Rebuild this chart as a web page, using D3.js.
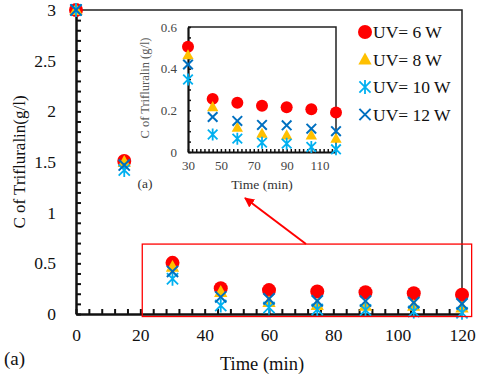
<!DOCTYPE html>
<html>
<head>
<meta charset="utf-8">
<script src="https://cdn.jsdelivr.net/npm/d3@7"></script>
<style>
  body { margin: 0; background: #fff; }
  text { font-family: "Liberation Serif", "Times New Roman", serif; }
</style>
</head>
<body>
<div id="chart"></div>
<script>
// data
const times = [0, 15, 30, 45, 60, 75, 90, 105, 120];
const uv6 = [3, 1.51, 0.505, 0.255, 0.236, 0.222, 0.215, 0.205, 0.19];
const uv8 = [3, 1.50, 0.465, 0.216, 0.117, 0.088, 0.08, 0.08, 0.064];
const uv10 = [3, 1.42, 0.348, 0.084, 0.064, 0.045, 0.04, 0.024, 0.013];
const uv12 = [3, 1.47, 0.42, 0.168, 0.149, 0.13, 0.128, 0.112, 0.1];

const seriesNames = ["UV= 6 W", "UV= 8 W", "UV= 10 W", "UV= 12 W"];
const seriesValues = [uv6, uv8, uv10, uv12];

const mainYTicks = [0, 0.5, 1, 1.5, 2, 2.5, 3];
const mainXTicks = [0, 20, 40, 60, 80, 100, 120];
const insetYTicks = [0, 0.2, 0.4, 0.6];
const insetXTicks = [30, 50, 70, 90, 110];

// zoom box drawn on the main chart (time, concentration)
const zoomBox = { t0: 20.6, t1: 123, c0: -0.025, c1: 0.69 };

const W = 480, H = 376;
const svg = d3.select("#chart").append("svg")
    .attr("width", W).attr("height", H);

const colors = ["#ff0000", "#ffc000", "#00b0f0", "#0070c0"];
const shapes = ["circle", "triangle", "star", "cross"];
const fmt = d3.format("");

function drawMarker(g, shape, color, s) {
    if (shape === "circle") {
        g.append("circle").attr("r", s).attr("fill", color);
    } else if (shape === "triangle") {
        g.append("path")
            .attr("d", `M0,${-s}L${s * 0.95},${s * 0.7}L${-s * 0.95},${s * 0.7}Z`)
            .attr("fill", color);
    } else if (shape === "star") {
        const a = s * 0.8;
        g.append("path")
            .attr("d", `M${-a},${-a}L${a},${a}M${-a},${a}L${a},${-a}M0,${-s}L0,${s}`)
            .attr("stroke", color).attr("stroke-width", 1.8).attr("fill", "none");
    } else {
        const a = s * 0.8;
        g.append("path")
            .attr("d", `M${-a},${-a}L${a},${a}M${-a},${a}L${a},${-a}`)
            .attr("stroke", color).attr("stroke-width", 2).attr("fill", "none");
    }
}

// ---- main chart ----
const x = d3.scaleLinear().domain([0, 120]).range([76, 462]);
const y = d3.scaleLinear().domain([0, 3]).range([314, 10]);

// frame top/right
svg.append("path")
    .attr("d", `M${x(0)},${y(3)}H${x(120)}V${y(0)}`)
    .attr("stroke", "#222").attr("stroke-width", 1.5).attr("fill", "none");

// minor ticks
const yMinor = svg.append("g").attr("transform", `translate(${x(0)},0)`)
    .call(d3.axisRight(y).tickValues(d3.range(0, 3.001, 0.1)).tickSize(5).tickFormat(""));
yMinor.select(".domain").remove();
const xMinor = svg.append("g").attr("transform", `translate(0,${y(0)})`)
    .call(d3.axisTop(x).tickValues(d3.range(0, 120.001, 4)).tickSize(5).tickFormat(""));
xMinor.select(".domain").remove();

const yAxis = svg.append("g").attr("transform", `translate(${x(0)},0)`)
    .call(d3.axisLeft(y).tickValues(mainYTicks).tickSize(0).tickPadding(20).tickFormat(fmt));
const xAxis = svg.append("g").attr("transform", `translate(0,${y(0)})`)
    .call(d3.axisBottom(x).tickValues(mainXTicks).tickSize(0).tickPadding(15).tickFormat(fmt));
[yAxis, xAxis, yMinor, xMinor].forEach(a => {
    a.attr("font-family", null);
    a.selectAll("line").attr("stroke", "#111").attr("stroke-width", 2);
    a.select(".domain").attr("stroke", "#111").attr("stroke-width", 2.5);
    a.selectAll("text").attr("font-size", 17.5).attr("fill", "#111");
});

svg.append("text")
    .attr("transform", `translate(25,162) rotate(-90)`)
    .attr("text-anchor", "middle").attr("font-size", 17).attr("fill", "#111")
    .text("C of Trifluralin(g/l)");
svg.append("text")
    .attr("x", 262).attr("y", 370).attr("text-anchor", "middle")
    .attr("font-size", 18.5).attr("fill", "#111").text("Time (min)");
svg.append("text")
    .attr("x", 4).attr("y", 365).attr("font-size", 19).attr("fill", "#111").text("(a)");

// main points
seriesValues.forEach((vals, i) => {
    svg.append("g").selectAll("g")
        .data(times.map((t, k) => [t, vals[k]]))
        .join("g")
        .attr("transform", d => `translate(${x(d[0])},${y(d[1])})`)
        .each(function () { drawMarker(d3.select(this), shapes[i], colors[i], 7); });
});

// zoom box + arrow
svg.append("rect")
    .attr("x", x(zoomBox.t0)).attr("y", y(zoomBox.c1))
    .attr("width", x(zoomBox.t1) - x(zoomBox.t0))
    .attr("height", y(zoomBox.c0) - y(zoomBox.c1))
    .attr("fill", "none").attr("stroke", "#ff0000").attr("stroke-width", 1.3);

svg.append("defs").append("marker")
    .attr("id", "arrow").attr("viewBox", "0 0 10 10")
    .attr("refX", 9).attr("refY", 5)
    .attr("markerWidth", 5).attr("markerHeight", 5)
    .attr("orient", "auto")
    .append("path").attr("d", "M0,0L10,5L0,10Z").attr("fill", "#ff0000");
svg.append("line")
    .attr("x1", 306).attr("y1", 244).attr("x2", 245).attr("y2", 198)
    .attr("stroke", "#ff0000").attr("stroke-width", 2)
    .attr("marker-end", "url(#arrow)");

// ---- inset ----
const xi = d3.scaleLinear().domain([30, 120]).range([188, 336]);
const yi = d3.scaleLinear().domain([0, 0.6]).range([152, 27]);

svg.append("path")
    .attr("d", `M${xi(30)},${yi(0.6)}H${xi(120)}V${yi(0)}`)
    .attr("stroke", "#222").attr("stroke-width", 1.5).attr("fill", "none");

const yiMinor = svg.append("g").attr("transform", `translate(${xi(30)},0)`)
    .call(d3.axisRight(yi).tickValues(d3.range(0, 0.601, 0.05)).tickSize(3).tickFormat(""));
yiMinor.select(".domain").remove();
const xiMinor = svg.append("g").attr("transform", `translate(0,${yi(0)})`)
    .call(d3.axisTop(xi).tickValues(d3.range(30, 120.001, 2.5)).tickSize(3).tickFormat(""));
xiMinor.select(".domain").remove();
const yiAxis = svg.append("g").attr("transform", `translate(${xi(30)},0)`)
    .call(d3.axisLeft(yi).tickValues(insetYTicks).tickSize(0).tickPadding(11).tickFormat(fmt));
const xiAxis = svg.append("g").attr("transform", `translate(0,${yi(0)})`)
    .call(d3.axisBottom(xi).tickValues(insetXTicks).tickSize(0).tickPadding(9).tickFormat(fmt));
[yiAxis, xiAxis, yiMinor, xiMinor].forEach(a => {
    a.attr("font-family", null);
    a.selectAll("line").attr("stroke", "#111").attr("stroke-width", 1.5);
    a.select(".domain").attr("stroke", "#111").attr("stroke-width", 2.2);
    a.selectAll("text").attr("font-size", 13).attr("fill", "#444");
});

svg.append("text")
    .attr("transform", `translate(149,88) rotate(-90)`)
    .attr("text-anchor", "middle").attr("font-size", 12.5).attr("fill", "#595959")
    .text("C of Trifluralin (g/l)");
svg.append("text")
    .attr("x", 262).attr("y", 189).attr("text-anchor", "middle")
    .attr("font-size", 13.5).attr("fill", "#333").text("Time (min)");
svg.append("text")
    .attr("x", 145).attr("y", 188).attr("text-anchor", "middle")
    .attr("font-size", 13.5).attr("fill", "#333").text("(a)");

seriesValues.forEach((vals, i) => {
    svg.append("g").selectAll("g")
        .data(times.map((t, k) => [t, vals[k]]).filter(d => d[0] >= 30))
        .join("g")
        .attr("transform", d => `translate(${xi(d[0])},${yi(d[1])})`)
        .each(function () { drawMarker(d3.select(this), shapes[i], colors[i], 6); });
});

// ---- legend ----
const legend = svg.append("g").attr("transform", "translate(365,32)");
seriesNames.forEach((name, i) => {
    const row = legend.append("g").attr("transform", `translate(0,${i * 27.5})`);
    drawMarker(row, shapes[i], colors[i], 7);
    row.append("text").attr("x", 8).attr("y", 6)
        .attr("font-size", 17.5).attr("fill", "#111").text(name);
});
</script>
</body>
</html>
